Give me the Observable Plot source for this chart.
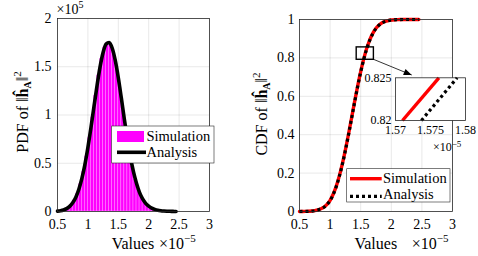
<!DOCTYPE html>
<html><head><meta charset="utf-8">
<script src="https://cdn.jsdelivr.net/npm/d3@7"></script>
<script src="https://cdn.jsdelivr.net/npm/@observablehq/plot@0.6"></script>
<style>
html,body{margin:0;padding:0;background:#fff;}
#wrap{position:relative;width:478px;height:256px;overflow:hidden;}
#wrap svg{position:absolute;overflow:visible;}
#wrap text{font-family:"Liberation Serif",serif;}
</style></head><body><div id="wrap"></div>
<script>
// ---- tick labels ----
const xTicks = [0.5, 1, 1.5, 2, 2.5, 3];
const xTickLabels = ["0.5", "1", "1.5", "2", "2.5", "3"];
const pdfTicks = [0, 0.5, 1, 1.5, 2];
const pdfTickLabels = ["0", "0.5", "1", "1.5", "2"];
const cdfTicks = [0, 0.2, 0.4, 0.6, 0.8, 1];
const cdfTickLabels = ["0", "0.2", "0.4", "0.6", "0.8", "1"];
const insetXTicks = [1.57, 1.575, 1.58];
const insetXTickLabels = ["1.57", "1.575", "1.58"];
const insetYTicks = [0.82, 0.825];
const insetYTickLabels = ["0.82", "0.825"];
const seriesNames = ["Simulation", "Analysis"];

// ---- PDF (values x1e-5, densities x1e5) ----
const pdfX = [0.5,0.55,0.6,0.65,0.7,0.75,0.8,0.85,0.9,0.95,1.0,1.05,1.1,1.15,1.2,1.25,1.3,1.35,1.4,1.45,1.5,1.55,1.6,1.65,1.7,1.75,1.8,1.85,1.9,1.95,2.0,2.05,2.1,2.15,2.2,2.25,2.3,2.35,2.4,2.45];
const pdfAnalysis = [0.004,0.008,0.016,0.030,0.053,0.090,0.146,0.228,0.340,0.484,0.663,0.867,1.087,1.304,1.499,1.648,1.736,1.752,1.692,1.565,1.386,1.175,0.954,0.742,0.56,0.41,0.29,0.195,0.13,0.085,0.055,0.035,0.022,0.013,0.008,0.005,0.003,0.002,0.001,0.0005];
const histCenters = [0.625,0.675,0.725,0.775,0.825,0.875,0.925,0.975,1.025,1.075,1.125,1.175,1.225,1.275,1.325,1.375,1.425,1.475,1.525,1.575,1.625,1.675,1.725,1.775,1.825,1.875,1.925,1.975,2.025,2.075,2.125,2.175,2.225];
const histSimulation = [0.022,0.040,0.070,0.115,0.185,0.282,0.41,0.57,0.76,0.975,1.20,1.41,1.58,1.70,1.75,1.73,1.635,1.48,1.285,1.065,0.85,0.645,0.47,0.335,0.23,0.155,0.105,0.068,0.044,0.028,0.017,0.010,0.006];
const histBinWidth = 0.05;

// ---- CDF ----
const cdfX = pdfX;
const cdfAnalysis = [0.0001,0.0003,0.0006,0.0012,0.0023,0.0044,0.0081,0.0143,0.022,0.036,0.057,0.088,0.129,0.182,0.245,0.318,0.398,0.483,0.568,0.650,0.726,0.7925,0.8485,0.8934,0.9277,0.9529,0.9705,0.9823,0.9898,0.9943,0.9970,0.9985,0.9993,0.9997,0.9999,1,1,1,1,1];
const cdfSimulation = [0.0001,0.0003,0.0007,0.0013,0.0025,0.0046,0.0084,0.0147,0.023,0.037,0.058,0.090,0.131,0.184,0.248,0.321,0.401,0.486,0.571,0.653,0.729,0.795,0.851,0.8955,0.929,0.954,0.9712,0.9828,0.9901,0.9945,0.9971,0.9986,0.9993,0.9997,0.9999,1,1,1,1,1];

// ---- inset (zoom) ----
const insetSimX = [1.5710, 1.5762];
const insetSimY = [0.8200, 0.8250];
const insetAnaX = [1.5737, 1.5788];
const insetAnaY = [0.8200, 0.8250];
const zoomCenter = {x: 1.575, y: 0.8225};

const FONT = "Liberation Serif";
const MAGENTA = "#ff00ff";
const DOTS = "3,3";
const wrap = document.getElementById("wrap");
const fmt = (ticks, labels) => d => labels[ticks.findIndex(t => Math.abs(t - d) < 1e-9)];
const gridStyle = {stroke: "#000", strokeOpacity: 0.13, strokeWidth: 0.7};
const baseStyle = {fontFamily: FONT, fontSize: "14px", color: "#000", background: "transparent", overflow: "visible"};

function txt(sel, x, y, size, anchor) {
  return sel.append("text").attr("x", x).attr("y", y).style("font-family", `"${FONT}", serif`)
    .attr("font-size", size).attr("fill", "#000").attr("text-anchor", anchor || "start");
}

// ================= LEFT: PDF =================
const histData = histCenters.map((c, i) => ({c, h: histSimulation[i]}));
const pdfData = pdfX.map((x, i) => ({x, y: pdfAnalysis[i]}));
const left = Plot.plot({
  width: 240, height: 256,
  marginLeft: 57, marginRight: 31, marginTop: 18, marginBottom: 45,
  x: {domain: [0.5, 3]}, y: {domain: [0, 2]},
  style: baseStyle,
  marks: [
    Plot.ruleX(xTicks.slice(1, -1), {...gridStyle}),
    Plot.ruleY(pdfTicks.slice(1, -1), {...gridStyle}),
    Plot.rectY(histData, {x1: d => d.c - histBinWidth / 2, x2: d => d.c + histBinWidth / 2, y: "h", fill: MAGENTA, stroke: "#ff8cff", strokeWidth: 0.5, inset: 0}),
    Plot.line(pdfData, {x: "x", y: "y", stroke: "#000", strokeWidth: 3.6, curve: "monotone-x", strokeLinejoin: "round"}),
    Plot.frame({stroke: "#262626", strokeWidth: 0.8}),
    Plot.axisX({ticks: xTicks, tickFormat: fmt(xTicks, xTickLabels), tickSize: 0, tickPadding: 8, label: null, fontSize: 14}),
    Plot.axisY({ticks: pdfTicks, tickFormat: fmt(pdfTicks, pdfTickLabels), tickSize: 0, tickPadding: 6, label: null, fontSize: 14})
  ]
});
left.style.left = "0px"; left.style.top = "0px";
wrap.appendChild(left);

function addTexts(svg, o) {
  const s = d3.select(svg);
  txt(s, o.valuesX, 249, 16, "middle").text("Values");
  const e = txt(s, o.expX, 249, 16, "start");
  e.append("tspan").text("×10");
  e.append("tspan").attr("dy", -7).attr("font-size", 11).text("−5");
  const t = s.append("text").attr("transform", `translate(${o.ylabX},${o.ylabY}) rotate(-90)`)
    .attr("text-anchor", "middle").style("font-family", `"${FONT}", serif`).attr("font-size", 16).attr("fill", "#000");
  t.append("tspan").text(o.ylab + " of ‖");
  t.append("tspan").attr("font-weight", "bold").text("ĥ");
  t.append("tspan").attr("font-size", 10).attr("dy", 3).attr("font-weight", "bold").text("A");
  t.append("tspan").attr("dy", -3).text("‖");
  t.append("tspan").attr("font-size", 11).attr("dy", -7).text("2");
}
addTexts(left, {valuesX: 133, expX: 159, ylabX: 27.5, ylabY: 112, ylab: "PDF"});
{
  const s = d3.select(left);
  const e = txt(s, 56.5, 13.5, 14, "start");
  e.append("tspan").text("×10");
  e.append("tspan").attr("dy", -6).attr("font-size", 10).text("5");
  const g = s.append("g");
  g.append("rect").attr("x", 111.7).attr("y", 126).attr("width", 102.3).attr("height", 37)
    .attr("fill", "#fff").attr("stroke", "#262626").attr("stroke-width", 0.6);
  g.append("rect").attr("x", 117).attr("y", 131).attr("width", 27).attr("height", 11).attr("fill", MAGENTA);
  txt(g, 146.5, 140.5, 14.5).text(seriesNames[0]);
  g.append("line").attr("x1", 117).attr("x2", 146).attr("y1", 152.3).attr("y2", 152.3).attr("stroke", "#000").attr("stroke-width", 3.6);
  txt(g, 146.5, 156.5, 14.5).text(seriesNames[1]);
}

// ================= RIGHT: CDF =================
const cdfData = cdfX.map((x, i) => ({x, sim: cdfSimulation[i], ana: cdfAnalysis[i]}));
const right = Plot.plot({
  width: 238, height: 256,
  marginLeft: 59, marginRight: 26, marginTop: 19, marginBottom: 45,
  x: {domain: [0.5, 3]}, y: {domain: [0, 1]},
  style: baseStyle,
  marks: [
    Plot.ruleX(xTicks.slice(1, -1), {...gridStyle}),
    Plot.ruleY(cdfTicks.slice(1, -1), {...gridStyle}),
    Plot.line(cdfData, {x: "x", y: "sim", stroke: "#ff0000", strokeWidth: 3.4, curve: "monotone-x"}),
    Plot.line(cdfData, {x: "x", y: "ana", stroke: "#000", strokeWidth: 3.2, strokeDasharray: DOTS, strokeLinecap: "butt", curve: "monotone-x"}),
    Plot.frame({stroke: "#262626", strokeWidth: 0.8}),
    Plot.axisX({ticks: xTicks, tickFormat: fmt(xTicks, xTickLabels), tickSize: 0, tickPadding: 8, label: null, fontSize: 14}),
    Plot.axisY({ticks: cdfTicks, tickFormat: fmt(cdfTicks, cdfTickLabels), tickSize: 0, tickPadding: 5, label: null, fontSize: 14})
  ]
});
right.style.left = "240px"; right.style.top = "0px";
wrap.appendChild(right);
addTexts(right, {valuesX: 135.8, expX: 171.7, ylabX: 27, ylabY: 114, ylab: "CDF"});
{
  const s = d3.select(right);
  const cx = right.scale("x").apply(zoomCenter.x), cy = right.scale("y").apply(zoomCenter.y);
  s.append("rect").attr("x", cx - 8.6).attr("y", cy - 6.2).attr("width", 17.2).attr("height", 12.4)
    .attr("fill", "none").attr("stroke", "#000").attr("stroke-width", 1.4);
  const x1 = cx + 8.6, y1 = cy + 6.2, x2 = 171.7, y2 = 75;
  s.append("line").attr("x1", x1).attr("y1", y1).attr("x2", x2).attr("y2", y2).attr("stroke", "#000").attr("stroke-width", 0.8);
  const ang = Math.atan2(y2 - y1, x2 - x1), L = 8, W = 3.2;
  const bx = x2 - L * Math.cos(ang), by = y2 - L * Math.sin(ang);
  s.append("path").attr("d", `M${x2},${y2}L${bx - W * Math.sin(ang)},${by + W * Math.cos(ang)}L${bx + W * Math.sin(ang)},${by - W * Math.cos(ang)}Z`)
    .attr("fill", "#000");
  const g = s.append("g");
  g.append("rect").attr("x", 106.7).attr("y", 168.7).attr("width", 103.3).attr("height", 33.3)
    .attr("fill", "#fff").attr("stroke", "#262626").attr("stroke-width", 0.6);
  g.append("line").attr("x1", 110).attr("x2", 141.7).attr("y1", 178.7).attr("y2", 178.7).attr("stroke", "#ff0000").attr("stroke-width", 3.4);
  txt(g, 143, 183, 14.5).text(seriesNames[0]);
  g.append("line").attr("x1", 110).attr("x2", 141.7).attr("y1", 196.3).attr("y2", 196.3).attr("stroke", "#000").attr("stroke-width", 3.2).attr("stroke-dasharray", DOTS);
  txt(g, 143, 198.5, 14.5).text(seriesNames[1]);
}

// ================= INSET =================
const insetSim = insetSimX.map((x, i) => ({x, y: insetSimY[i]}));
const insetAna = insetAnaX.map((x, i) => ({x, y: insetAnaY[i]}));
const inset = Plot.plot({
  width: 138, height: 110,
  marginLeft: 55, marginRight: 13, marginTop: 37.3, marginBottom: 30,
  x: {domain: [1.57, 1.58]}, y: {domain: [0.82, 0.825]},
  style: {...baseStyle, fontSize: "12px"},
  marks: [
    Plot.frame({fill: "#fff", stroke: "none"}),
    Plot.line(insetSim, {x: "x", y: "y", stroke: "#ff0000", strokeWidth: 3.4, strokeLinecap: "butt"}),
    Plot.line(insetAna, {x: "x", y: "y", stroke: "#000", strokeWidth: 3.2, strokeDasharray: DOTS, strokeLinecap: "butt"}),
    Plot.frame({stroke: "#262626", strokeWidth: 0.8}),
    Plot.axisX({ticks: insetXTicks, tickFormat: fmt(insetXTicks, insetXTickLabels), tickSize: 0, tickPadding: 5, label: null, fontSize: 12}),
    Plot.axisY({ticks: insetYTicks, tickFormat: fmt(insetYTicks, insetYTickLabels), tickSize: 0, tickPadding: 4, label: null, fontSize: 12})
  ]
});
inset.style.left = "340px"; inset.style.top = "40px";
wrap.appendChild(inset);
{
  const s = d3.select(inset);
  const e = txt(s, 93, 110.5, 12, "start");
  e.append("tspan").text("×10");
  e.append("tspan").attr("dy", -4).attr("font-size", 9).text("−5");
}
</script></body></html>
